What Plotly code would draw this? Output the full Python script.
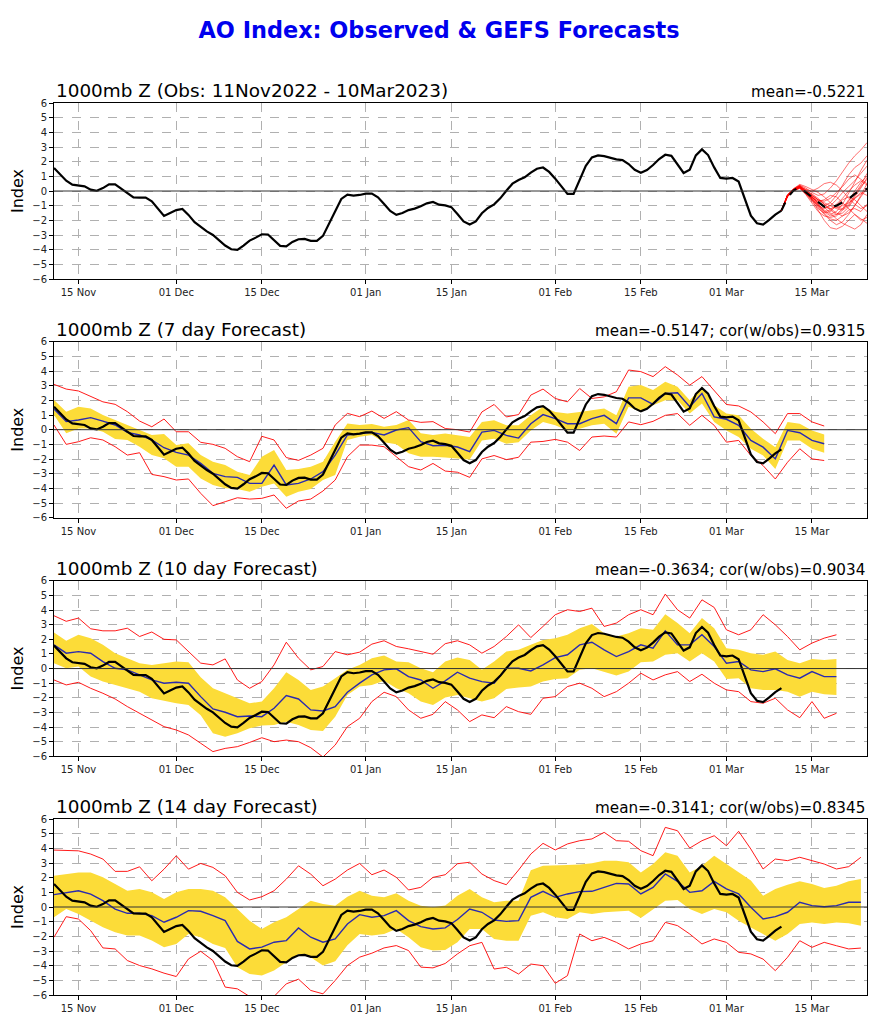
import pandas as pd
import plotly.graph_objects as go

# observed AO index, daily from 11 Nov 2022 to 10 Mar 2023
obs = [1.57, 1.16, 0.70, 0.43, 0.36, 0.32, 0.09, 0.02, 0.20, 0.45,
       0.45, 0.15, -0.15, -0.43, -0.45, -0.45, -0.70, -1.20, -1.70, -1.50,
       -1.30, -1.22, -1.63, -2.13, -2.47, -2.75, -3.00, -3.34, -3.72, -3.97,
       -4.02, -3.72, -3.38, -3.18, -2.95, -2.97, -3.34, -3.74, -3.77, -3.47,
       -3.29, -3.27, -3.40, -3.40, -3.06, -2.25, -1.34, -0.54, -0.25, -0.32, -0.27,
       -0.18, -0.18, -0.43, -0.89, -1.36, -1.63, -1.50, -1.30, -1.20, -1.04,
       -0.84, -0.75, -0.93, -0.98, -1.10, -1.57, -2.07, -2.29, -2.07, -1.52,
       -1.16, -0.91, -0.50, 0.02, 0.50, 0.75, 0.93, 1.25, 1.52, 1.60, 1.30,
       0.84, 0.30, -0.20, -0.20, 0.70, 1.72, 2.29, 2.43, 2.38, 2.25,
       2.16, 2.11, 1.84, 1.45, 1.25, 1.43, 1.77, 2.18, 2.47, 2.40,
       1.77, 1.23, 1.45, 2.43, 2.84, 2.45, 1.61, 0.89,
       0.84, 0.89, 0.64, -0.52, -1.68, -2.20, -2.29, -1.97, -1.61, -1.34]

# GEFS members, daily from 10 Mar 2023
ens_members = [
    [-1.34, -0.30, 0.10, 0.30, -0.05, -0.40, -0.90, -1.30, -1.60, -1.40, -0.90, -0.20, 0.60, 1.40, 2.10],
    [-1.34, -0.35, 0.05, 0.25, -0.10, -0.55, -1.10, -1.60, -2.00, -2.30, -2.10, -1.60, -1.00, -0.40, 0.20],
    [-1.34, -0.25, 0.15, 0.40, 0.20, -0.10, -0.30, -0.20, 0.20, 0.70, 1.30, 1.90, 2.40, 2.80, 3.30],
    [-1.34, -0.40, 0.00, 0.20, -0.20, -0.70, -1.20, -1.50, -1.40, -1.00, -0.60, -0.40, -0.60, -1.00, -1.40],
    [-1.34, -0.30, 0.10, 0.35, 0.00, -0.30, -0.60, -0.90, -1.20, -1.50, -1.70, -1.50, -1.00, -0.30, 0.50],
    [-1.34, -0.28, 0.12, 0.30, -0.10, -0.60, -1.30, -2.00, -2.50, -2.60, -2.40, -2.00, -1.60, -1.90, -2.20],
    [-1.34, -0.32, 0.08, 0.28, 0.10, 0.00, 0.20, 0.50, 0.60, 0.40, 0.00, -0.50, -0.90, -1.20, -1.00],
    [-1.34, -0.35, 0.05, 0.20, -0.15, -0.50, -0.80, -1.00, -0.80, -0.30, 0.40, 1.10, 1.60, 1.90, 2.40],
    [-1.34, -0.30, 0.10, 0.32, -0.05, -0.45, -0.70, -0.60, -0.30, -0.40, -0.80, -1.20, -1.60, -2.00, -1.80],
    [-1.34, -0.38, 0.02, 0.22, -0.25, -0.80, -1.40, -1.70, -1.80, -1.70, -1.30, -0.70, 0.00, 0.60, 1.00],
    [-1.34, -0.26, 0.16, 0.45, 0.30, 0.10, -0.10, -0.40, -0.80, -1.10, -1.20, -0.90, -0.30, 0.30, 0.80],
    [-1.34, -0.33, 0.06, 0.25, -0.10, -0.40, -0.70, -1.10, -1.50, -1.90, -2.20, -2.40, -2.60, -2.30, -1.60],
    [-1.34, -0.30, 0.12, 0.35, 0.05, -0.35, -0.90, -1.40, -1.30, -0.90, -0.50, 0.00, 0.40, 0.70, 0.40],
    [-1.34, -0.36, 0.04, 0.18, -0.20, -0.60, -1.00, -1.20, -1.00, -0.60, -0.10, 0.30, 0.70, 1.20, 1.70],
    [-1.34, -0.29, 0.11, 0.30, 0.00, -0.20, -0.50, -0.90, -1.30, -1.60, -1.50, -1.10, -0.50, -0.10, -0.30],
    [-1.34, -0.31, 0.09, 0.27, -0.05, -0.45, -0.80, -1.10, -1.20, -1.10, -1.00, -0.80, -0.50, -0.20, 0.10],
    [-1.34, -0.34, 0.05, 0.24, -0.15, -0.55, -1.00, -1.40, -1.70, -1.60, -1.20, -0.60, -0.20, 0.40, 1.20],
    [-1.34, -0.27, 0.14, 0.38, 0.10, -0.25, -0.60, -0.70, -0.50, -0.10, 0.30, 0.80, 1.10, 0.80, 0.50],
    [-1.34, -0.32, 0.07, 0.26, -0.12, -0.50, -1.00, -1.50, -1.90, -2.00, -1.70, -1.30, -1.20, -1.40, -0.90],
    [-1.34, -0.30, 0.10, 0.30, -0.05, -0.35, -0.60, -0.80, -1.00, -1.20, -1.30, -1.00, -0.40, 0.20, 0.90],
]
ens_mean = [-1.34, -0.45, 0.05, 0.25, -0.09, -0.43, -0.77, -1.07, -1.11, -1.00,
            -0.77, -0.55, -0.20, 0.07, 0.14]

# verifying forecasts, every 2 days from 11 Nov 2022
red_hi_7 = [3.09, 2.77, 2.64, 2.25, 1.90, 1.73, 1.23, 0.59, 0.20, 0.73,
            -0.14, -0.14, -0.86, -1.00, -1.27, -1.84, -2.18, -0.45, -0.70, -1.90,
            -2.09, -1.73, -1.27, 0.32, 1.11, 0.89, 1.27, 0.77, 1.23, 0.66,
            0.50, 0.55, 0.08, 0.00, -0.16, 1.21, 1.72, 0.87, 1.03, 2.36,
            2.77, 2.13, 1.90, 2.81, 2.13, 2.24, 2.59, 4.07, 3.96, 3.62,
            4.30, 3.73, 3.04, 3.62, 2.70, 1.72, 1.62, 1.21, 0.53, -0.27,
            1.10, 1.10, 0.53, 0.25]
red_lo_7 = [0.32, -1.00, -0.82, -0.55, -0.70, -1.16, -1.73, -1.57, -3.05, -3.20,
            -3.43, -3.36, -4.34, -5.18, -4.91, -4.64, -4.73, -4.68, -4.45, -5.36,
            -4.86, -4.73, -4.18, -3.43, -1.84, -1.05, -1.05, -1.16, -1.84, -2.52,
            -2.75, -2.30, -2.82, -2.90, -3.25, -1.99, -1.76, -2.04, -1.88, -0.85,
            -0.80, -0.66, -0.85, -1.42, -0.50, -0.43, -0.50, 0.53, 0.34, 0.57,
            0.98, 1.10, 0.30, 0.98, 0.30, -0.85, -0.73, -1.76, -2.45, -3.36,
            -2.22, -1.30, -1.99, -2.10]
band_hi_7 = [2.02, 1.23, 1.57, 1.45, 1.00, 0.66, 0.32, -0.02, -0.36, -0.30,
             -1.05, -0.93, -1.73, -2.18, -2.41, -2.86, -3.09, -1.84, -1.39, -2.75,
             -2.68, -2.52, -2.18, -0.82, 0.43, 0.32, 0.39, 0.20, 0.32, 0.66,
             -0.25, -0.36, -0.26, -0.38, -0.50, 0.53, 0.64, 0.30, 0.30, 0.98,
             1.56, 1.21, 1.10, 1.21, 1.33, 1.44, 0.98, 2.93, 3.04, 2.70,
             3.27, 2.93, 2.01, 2.93, 1.67, 1.10, 0.98, 0.07, -0.62, -1.19,
             0.53, 0.41, -0.05, -0.32]
band_lo_7 = [1.00, -0.25, 0.09, 0.09, -0.14, -0.64, -0.70, -1.16, -1.73, -1.95,
             -2.52, -2.52, -3.32, -3.77, -4.00, -4.05, -4.23, -3.89, -3.66, -4.57,
             -4.23, -4.05, -3.43, -3.09, -0.70, -0.48, -0.36, -0.86, -1.00, -1.61,
             -1.84, -1.84, -1.90, -1.99, -2.04, -0.73, -0.62, -0.96, -0.85, -0.05,
             0.53, 0.30, -0.05, 0.07, 0.30, 0.41, -0.27, 1.56, 1.21, 1.67,
             2.01, 2.01, 1.10, 1.79, 0.53, -0.05, -0.50, -1.30, -1.76, -2.68,
             -0.73, -0.73, -1.30, -1.58]
blue_7 = [1.41, 0.55, 0.66, 0.82, 0.59, 0.32, -0.18, -0.36, -0.70, -1.23,
          -1.55, -1.73, -2.30, -2.98, -3.20, -3.25, -3.66, -3.66, -2.41, -3.77,
          -3.66, -3.36, -2.86, -1.73, -0.36, -0.25, -0.18, -0.36, -0.02, 0.14,
          -0.82, -1.09, -1.06, -1.18, -1.49, -0.16, -0.05, -0.39, -0.57, 0.41,
          1.03, 0.75, 0.41, 0.41, 0.75, 0.98, 0.41, 2.17, 2.17, 1.72,
          2.47, 2.52, 1.56, 2.47, 0.87, 0.71, 0.30, -0.73, -1.19, -1.99,
          -0.05, -0.21, -0.73, -0.96]

red_hi_10 = [3.61, 3.23, 3.45, 2.72, 2.58, 2.58, 2.76, 2.19, 2.50, 2.00,
             1.96, 1.16, 0.37, 0.25, 0.66, -0.78, -1.35, -0.89, 0.25, 1.80,
             0.71, -0.09, 0.14, 1.16, 0.94, 1.12, 1.67, 1.90, 1.51, 1.35,
             1.16, 0.98, 1.70, 1.90, 1.62, 1.05, 1.51, 2.19, 2.99, 2.12,
             2.88, 3.68, 4.02, 3.90, 4.13, 2.88, 3.11, 3.68, 4.02, 3.68,
             5.09, 4.02, 3.45, 4.70, 4.18, 2.65, 2.31, 2.65, 3.68, 2.99,
             2.19, 1.28, 1.74, 2.08, 2.31]
red_lo_10 = [-0.78, -1.12, -0.94, -1.35, -1.69, -2.08, -2.60, -3.06, -3.52, -3.97,
             -4.20, -4.54, -5.11, -5.68, -5.46, -5.34, -5.05, -4.73, -5.00, -4.89,
             -5.00, -5.41, -6.05, -5.23, -3.97, -3.40, -2.26, -1.62, -1.92, -2.83,
             -3.40, -3.13, -2.26, -2.83, -3.63, -3.17, -3.36, -2.60, -2.95, -3.13,
             -2.03, -1.92, -1.23, -1.00, -1.35, -1.92, -1.58, -1.00, -0.32, -0.78,
             -0.43, -0.21, -0.89, -0.39, -1.00, -1.46, -1.58, -2.26, -2.37, -2.03,
             -2.83, -3.36, -2.26, -3.40, -3.06]
band_hi_10 = [2.47, 1.90, 2.31, 2.08, 1.62, 1.05, 0.71, 0.37, 0.25, 0.37,
              0.48, 0.43, -0.60, -1.35, -1.69, -2.08, -2.37, -2.26, -1.35, -0.25,
              -0.78, -1.46, -1.23, -0.66, -0.09, 0.25, 0.71, 0.89, 0.48, 0.43,
              0.02, -0.25, 0.48, 0.76, 0.59, -0.09, 0.48, 1.16, 1.28, 1.62,
              1.96, 2.08, 2.31, 2.76, 3.04, 2.42, 2.19, 2.42, 2.76, 2.65,
              3.72, 3.11, 2.42, 3.45, 2.76, 1.39, 1.28, 1.05, 0.94, 1.16,
              0.59, 0.37, 0.66, 0.59, 0.66]
band_lo_10 = [0.37, 0.02, 0.14, -0.55, -0.89, -1.12, -1.35, -1.58, -2.03, -2.21,
              -2.37, -2.49, -3.20, -4.43, -4.66, -4.43, -4.09, -3.90, -3.86, -3.63,
              -3.86, -4.20, -4.27, -3.29, -1.80, -1.23, -1.12, -0.84, -1.35, -1.69,
              -2.26, -2.49, -1.98, -1.80, -2.03, -2.26, -2.03, -1.39, -1.30, -1.23,
              -0.89, -0.71, -0.66, -0.09, 0.02, -0.21, -0.48, -0.21, 0.43, 0.48,
              0.94, 1.05, 0.48, 1.05, 0.48, -0.71, -0.66, -1.35, -1.46, -1.46,
              -1.58, -1.92, -1.58, -1.76, -1.80]
blue_10 = [1.62, 1.05, 1.16, 1.05, 0.48, 0.02, -0.09, -0.43, -0.78, -1.00,
           -0.94, -1.00, -1.92, -2.76, -2.99, -3.29, -3.24, -3.29, -2.72, -1.85,
           -2.08, -2.83, -2.90, -2.60, -1.62, -1.00, -0.43, -0.09, -0.02, -0.55,
           -0.78, -1.35, -0.84, -0.25, -0.66, -0.89, -1.00, 0.02, 0.02, -0.16,
           0.25, 0.75, 0.94, 1.62, 1.80, 1.28, 0.82, 1.16, 1.62, 1.39,
           2.58, 1.62, 1.62, 2.31, 1.51, 0.37, 0.48, -0.09, -0.21, -0.02,
           -0.43, -0.66, -0.21, -0.55, -0.55]

red_hi_14 = [3.88, 3.88, 3.83, 3.61, 3.27, 2.43, 2.43, 2.74, 1.79, 2.58,
             3.49, 2.58, 2.97, 2.70, 2.13, 1.00, 0.48, 0.70, 1.11, 1.90,
             2.81, 2.24, 1.45, 1.90, 2.52, 2.97, 2.20, 2.52, 2.02, 1.16,
             1.34, 2.02, 2.20, 2.95, 3.05, 2.25, 1.80, 1.52, 2.52, 3.61,
             4.34, 3.89, 4.30, 4.52, 4.64, 5.09, 4.52, 4.48, 3.84, 3.50,
             5.43, 5.20, 4.02, 4.52, 4.86, 4.18, 5.16, 3.95, 2.59, 3.27,
             3.16, 3.39, 3.16, 2.93, 2.59, 2.75, 3.39]
red_lo_14 = [-2.06, -0.66, -0.82, -1.61, -2.79, -2.86, -3.65, -3.99, -4.22, -4.51,
             -4.74, -3.54, -3.02, -3.65, -5.46, -5.58, -6.10, -6.20, -6.10, -5.24,
             -4.92, -5.69, -5.92, -5.01, -3.99, -3.42, -3.15, -2.79, -2.63, -2.97,
             -4.10, -4.15, -3.85, -3.20, -2.64, -2.41, -4.23, -4.11, -4.57, -3.89,
             -4.00, -5.20, -4.68, -1.84, -2.30, -2.07, -2.41, -2.86, -2.52, -2.30,
             -1.05, -1.27, -1.84, -2.52, -2.18, -2.41, -3.09, -3.20, -3.55, -4.34,
             -3.43, -2.30, -2.75, -2.41, -2.64, -2.86, -2.80]
band_hi_14 = [2.13, 2.24, 2.36, 2.36, 2.02, 1.56, 1.11, 1.22, 1.00, 0.54,
              1.00, 1.22, 1.22, 1.11, 0.66, -0.14, -0.93, -1.50, -1.04, -0.70,
              -0.14, 0.43, 0.20, 0.09, 0.70, 1.11, 0.77, 0.66, 0.93, 0.43,
              0.09, -0.02, 0.11, 0.77, 1.23, 0.66, 0.32, 0.43, 0.43, 2.50,
              2.82, 2.82, 2.86, 2.89, 2.98, 3.16, 3.16, 3.05, 2.36, 2.93,
              3.73, 3.50, 2.36, 2.82, 3.50, 2.93, 2.36, 1.80, 0.77, 1.23,
              1.52, 1.75, 1.57, 1.30, 1.45, 1.75, 1.91]
band_lo_14 = [-0.70, -0.14, -0.48, -0.93, -1.38, -1.72, -1.95, -1.95, -2.29, -2.74,
              -2.52, -1.84, -2.06, -2.52, -2.79, -4.10, -4.56, -4.67, -4.33, -3.76,
              -3.20, -3.42, -3.99, -3.70, -2.60, -1.84, -1.95, -1.84, -1.50, -2.06,
              -2.74, -2.97, -2.94, -2.41, -1.50, -1.50, -2.18, -2.30, -2.30, -0.59,
              -0.36, -0.70, -0.82, -0.36, -0.48, -0.36, -0.30, -0.25, -0.75, -0.14,
              0.43, 0.48, -0.14, -0.48, -0.14, -0.36, -0.93, -1.39, -1.84, -2.30,
              -1.84, -1.16, -1.05, -1.16, -1.05, -1.11, -1.27]
blue_14 = [0.84, 1.00, 1.11, 0.88, 0.43, -0.14, -0.43, -0.43, -0.59, -1.04,
           -0.70, -0.25, -0.29, -0.59, -0.93, -2.35, -2.86, -2.74, -2.40, -2.29,
           -1.43, -2.06, -2.40, -2.18, -1.16, -0.52, -0.70, -0.59, -0.25, -0.93,
           -1.34, -1.50, -1.42, -0.85, -0.14, -0.36, -0.89, -0.98, -0.93, 0.66,
           1.07, 0.66, 0.89, 1.05, 1.07, 1.34, 1.61, 1.57, 0.89, 1.34,
           2.25, 1.75, 1.00, 1.11, 1.75, 1.23, 0.89, -0.02, -0.82, -0.66,
           -0.36, 0.32, 0.09, 0.02, 0.09, 0.32, 0.32]

tick_dates = ["2022-11-15", "2022-12-01", "2022-12-15", "2023-01-01", "2023-01-15",
              "2023-02-01", "2023-02-15", "2023-03-01", "2023-03-15"]

panel_titles = ["1000mb Z (Obs: 11Nov2022 - 10Mar2023)", "1000mb Z (7 day Forecast)",
                "1000mb Z (10 day Forecast)", "1000mb Z (14 day Forecast)"]
panel_stats = ["mean=-0.5221", "mean=-0.5147; cor(w/obs)=0.9315",
               "mean=-0.3634; cor(w/obs)=0.9034", "mean=-0.3141; cor(w/obs)=0.8345"]

FONT = "DejaVu Sans"
YELLOW = "#FCDC38"
BLUE = "#2a2ab0"

# page body has an 8px margin, so the figure is sized to fit inside it
W, H = 862, 1008
m_l, m_r, m_t, m_b = 46, 3, 95, 21

obs_dates = pd.date_range("2022-11-11", periods=len(obs), freq="D")
ens_dates = pd.date_range("2023-03-10", periods=len(ens_mean), freq="D")

fig = go.Figure()


def add(trace, row):
    sfx = "" if row == 1 else str(row)
    trace.update(xaxis="x" + sfx, yaxis="y" + sfx, showlegend=False, hoverinfo="skip")
    fig.add_trace(trace)


# panel 1: observations + ensemble
add(go.Scatter(x=obs_dates, y=obs, mode="lines", line=dict(color="black", width=2.2)), 1)
for m in ens_members:
    add(go.Scatter(x=ens_dates, y=m, mode="lines", line=dict(color="red", width=0.7),
                   opacity=0.8), 1)
add(go.Scatter(x=ens_dates, y=ens_mean, mode="lines",
               line=dict(color="black", width=2.2, dash="dash")), 1)

# forecast panels
forecasts = [
    (band_lo_7, band_hi_7, red_lo_7, red_hi_7, blue_7),
    (band_lo_10, band_hi_10, red_lo_10, red_hi_10, blue_10),
    (band_lo_14, band_hi_14, red_lo_14, red_hi_14, blue_14),
]
for row, (blo, bhi, rlo, rhi, blu) in enumerate(forecasts, start=2):
    d = pd.date_range("2022-11-11", periods=len(blu), freq="2D")
    add(go.Scatter(x=d, y=blo, mode="lines", line=dict(width=0, color=YELLOW)), row)
    add(go.Scatter(x=d, y=bhi, mode="lines", line=dict(width=0, color=YELLOW),
                   fill="tonexty", fillcolor=YELLOW), row)
    add(go.Scatter(x=d, y=rhi, mode="lines", line=dict(color="red", width=0.9)), row)
    add(go.Scatter(x=d, y=rlo, mode="lines", line=dict(color="red", width=0.9)), row)
    add(go.Scatter(x=d, y=blu, mode="lines", line=dict(color=BLUE, width=1.4)), row)
    add(go.Scatter(x=obs_dates, y=obs, mode="lines", line=dict(color="black", width=2.2)), row)

# plot areas in page pixels (top, bottom) -> paper domains
panel_px = [(102.7, 279.0), (341.7, 517.7), (580.8, 756.3), (819.0, 995.3)]
ph = H - m_t - m_b
domains = []
for top, bottom in panel_px:
    lo = (H - m_b - (bottom - 8)) / ph
    hi = (H - m_b - (top - 8)) / ph
    domains.append([max(0.0, lo), min(1.0, hi)])

annotations = []
shapes = []
for i, dom in enumerate(domains, start=1):
    sfx = "" if i == 1 else str(i)
    fig.update_layout(**{
        "xaxis" + sfx: dict(
            domain=[0, 1], anchor="y" + sfx, type="date",
            range=["2022-11-11", "2023-03-24"],
            tickvals=tick_dates, tickformat="%d %b",
            ticks="outside", ticklen=4, tickcolor="black",
            tickfont=dict(size=10, color="#222", family=FONT),
            showgrid=True, gridcolor="#b0b0b0", griddash="dash", gridwidth=0.8,
            showline=True, linecolor="black", linewidth=1, mirror=True,
            zeroline=False,
        ),
        "yaxis" + sfx: dict(
            domain=dom, anchor="x" + sfx, range=[-6, 6],
            tickvals=list(range(-6, 7)),
            ticks="outside", ticklen=4, tickcolor="black",
            tickfont=dict(size=10, color="#222", family=FONT),
            showgrid=True, gridcolor="#b0b0b0", griddash="dash", gridwidth=0.8,
            showline=True, linecolor="black", linewidth=1, mirror=True,
            zeroline=False,
            title=dict(text="Index", font=dict(size=16, family=FONT, color="black"),
                       standoff=6),
        ),
    })
    annotations.append(dict(text=panel_titles[i - 1], xref="paper", yref="paper",
                            x=0, y=dom[1], xanchor="left", yanchor="bottom",
                            showarrow=False, font=dict(size=18.4, family=FONT, color="black")))
    annotations.append(dict(text=panel_stats[i - 1], xref="paper", yref="paper",
                            x=1, y=dom[1], xanchor="right", yanchor="bottom",
                            showarrow=False, font=dict(size=15.2, family=FONT, color="black")))
    shapes.append(dict(type="line", xref="x" + sfx + " domain", yref="y" + sfx,
                       x0=0, x1=1, y0=0, y1=0, layer="above",
                       line=dict(color="#333", width=1)))

fig.update_layout(
    width=W, height=H,
    paper_bgcolor="white", plot_bgcolor="white",
    margin=dict(l=m_l, r=m_r, t=m_t, b=m_b),
    title=dict(text="<b>AO Index: Observed & GEFS Forecasts</b>",
               x=(439 - 8 - m_l) / (W - m_l - m_r), xref="paper", xanchor="center",
               y=1 - (30 - 8) / H, yref="container", yanchor="middle",
               font=dict(size=22.4, family=FONT, color="#0000ee")),
    annotations=annotations,
    shapes=shapes,
    font=dict(family=FONT),
)

fig.write_html("out.html")
